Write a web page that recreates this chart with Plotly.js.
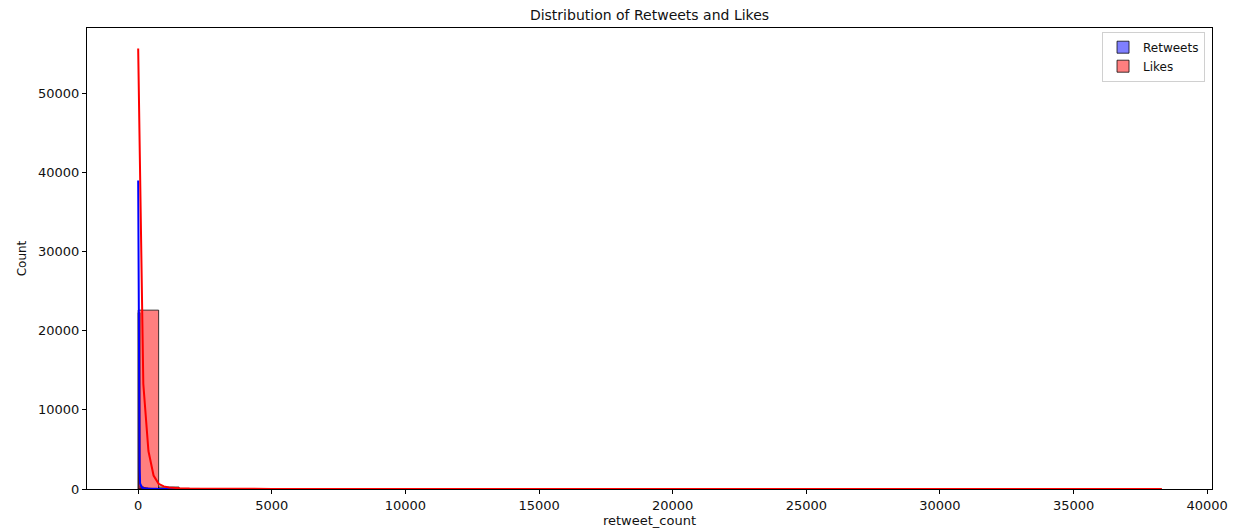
<!DOCTYPE html>
<html>
<head>
<meta charset="utf-8">
<script src="https://cdn.plot.ly/plotly-3.0.1.min.js"></script>
<style>html,body{margin:0;padding:0;background:#fff;}#chart{width:1239px;height:529px;}</style>
</head>
<body>
<div id="chart"></div>
<script>
// ---- data ----
const likesMax = 38300;       // largest like count (right end of the like bins)
const retweetsMax = 3560;     // largest retweet count
const nBins = 50;

const likesCounts = [22620, 250, 70, 35, 20, 12, 8, 6, 4, 3, 2, 2, 1, 1, 1, 1, 1, 0, 1, 0,
                     0, 1, 0, 0, 0, 0, 1, 0, 0, 0, 0, 0, 0, 0, 0, 0, 0, 0, 0, 0,
                     0, 0, 0, 0, 0, 0, 0, 0, 0, 1];
const retweetCounts = [22300, 420, 260, 190, 140, 110, 85, 65, 50, 40, 32, 26, 22, 18, 15, 12, 10, 9, 8, 7,
                       6, 5, 5, 4, 4, 3, 3, 3, 2, 2, 2, 2, 2, 1, 1, 1, 1, 1, 1, 1,
                       1, 1, 1, 0, 1, 0, 1, 0, 0, 1];

const likesKdeX = [0, 192, 384, 576, 768, 960, 1152, 1344, 1536, 1920, 2500, 3500, 5000, 8000, 15000, 25000, 38300];
const likesKdeY = [55700, 13300, 4800, 1700, 650, 330, 200, 140, 100, 60, 35, 20, 12, 6, 3, 1, 0];
const retweetKdeX = [0, 18, 36, 54, 72, 108, 144, 216, 360, 720, 1440, 2500, 3560];
const retweetKdeY = [39000, 22000, 8000, 2500, 700, 300, 180, 110, 50, 20, 8, 3, 0];

const xTicks = [0, 5000, 10000, 15000, 20000, 25000, 30000, 35000, 40000];
const yTicks = [0, 10000, 20000, 30000, 40000, 50000];
// ----------------------------------------------

function centers(maxVal, n) {
  const w = maxVal / n;
  return Array.from({length: n}, (_, i) => i * w + w / 2);
}
const wL = likesMax / nBins, wR = retweetsMax / nBins;

const FONT = 'DejaVu Sans, sans-serif';

const traces = [
  {type: 'bar', name: 'Retweets', x: centers(retweetsMax, nBins), y: retweetCounts, width: wR,
   marker: {color: 'rgba(0,0,255,0.5)', line: {color: 'rgba(0,0,0,0.75)', width: 1}}, hoverinfo: 'skip'},
  {type: 'bar', name: 'Likes', x: centers(likesMax, nBins), y: likesCounts, width: wL,
   marker: {color: 'rgba(255,0,0,0.5)', line: {color: 'rgba(0,0,0,0.75)', width: 1}}, hoverinfo: 'skip'},
  {type: 'scatter', mode: 'lines', x: retweetKdeX, y: retweetKdeY, showlegend: false,
   line: {color: '#0000ff', width: 2}, hoverinfo: 'skip'},
  {type: 'scatter', mode: 'lines', x: likesKdeX, y: likesKdeY, showlegend: false,
   line: {color: '#ff0000', width: 2}, hoverinfo: 'skip'}
];

const layout = {
  width: 1239, height: 529,
  margin: {l: 87, r: 27, t: 28, b: 40, pad: 0},
  paper_bgcolor: '#fff', plot_bgcolor: '#fff',
  barmode: 'overlay', bargap: 0,
  font: {family: FONT, size: 13, color: '#111'},
  title: {text: 'Distribution of Retweets and Likes', x: 0.5, xref: 'paper', xanchor: 'center',
          y: 1 - 15 / 529, yref: 'container', yanchor: 'middle', font: {family: FONT, size: 14, color: '#111'}},
  xaxis: {range: [-1915, 40180], tickvals: xTicks, ticktext: xTicks.map(String),
          showline: true, mirror: true, linecolor: '#000', linewidth: 1,
          ticks: 'outside', ticklen: 4, tickwidth: 1, tickcolor: '#000',
          showgrid: false, zeroline: false, automargin: false,
          tickfont: {family: FONT, size: 13, color: '#111'},
          title: {text: 'retweet_count', standoff: 3, font: {family: FONT, size: 13, color: '#111'}}},
  yaxis: {range: [0, 58300], tickvals: yTicks, ticktext: yTicks.map(String),
          showline: true, mirror: true, linecolor: '#000', linewidth: 1,
          ticks: 'outside', ticklen: 4, tickwidth: 1, tickcolor: '#000',
          showgrid: false, zeroline: false, automargin: false,
          tickfont: {family: FONT, size: 13, color: '#111'},
          title: {text: 'Count', standoff: 8, font: {family: FONT, size: 12, color: '#111'}}},
  legend: {x: 0.9938, xanchor: 'right', y: 0.992, yanchor: 'top',
           bgcolor: 'rgba(255,255,255,0.8)', bordercolor: '#d0d0d0', borderwidth: 1,
           font: {family: FONT, size: 12, color: '#111'}, tracegroupgap: 0, itemwidth: 30},
  showlegend: true
};

Plotly.newPlot('chart', traces, layout, {displayModeBar: false, staticPlot: true});
</script>
</body>
</html>
